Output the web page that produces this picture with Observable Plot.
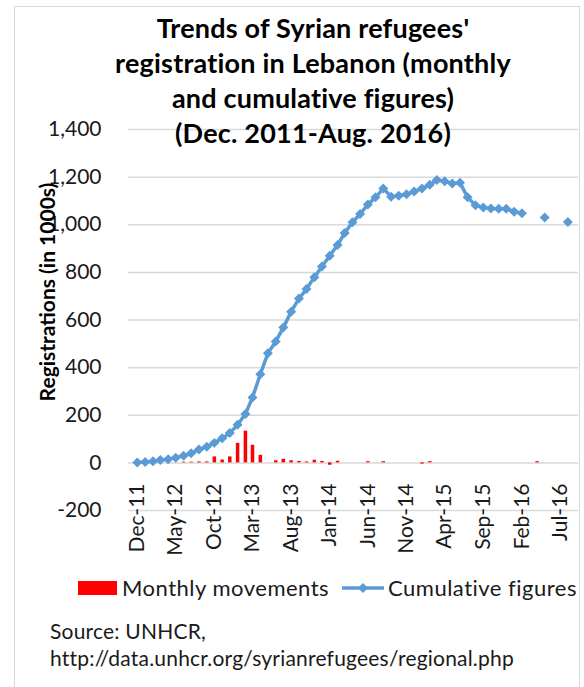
<!DOCTYPE html>
<html><head><meta charset="utf-8">
<script src="https://cdn.jsdelivr.net/npm/d3@7"></script>
<script src="https://cdn.jsdelivr.net/npm/@observablehq/plot@0.6"></script>
<style>
body{margin:0;background:#fff;font-family:Lato,"Open Sans",sans-serif;color:#1a1a1a;}
#wrap{position:relative;width:584px;height:687px;overflow:hidden;}
#frame{position:absolute;left:14px;top:6px;width:566px;height:700px;border:1px solid #d9d9d9;box-sizing:border-box;}
#chart{position:absolute;left:0;top:0;}
#title{position:absolute;left:0;width:626px;top:10px;text-align:center;font-weight:700;font-size:27px;line-height:35px;letter-spacing:0.2px;color:#000;}
#ylab{position:absolute;left:-103px;top:279px;width:300px;text-align:center;font-weight:700;font-size:21px;line-height:26px;transform:rotate(-90deg);transform-origin:150px 13px;color:#000;}
.leg{position:absolute;font-size:22px;line-height:26px;letter-spacing:0.5px;}
.src{position:absolute;left:50px;font-size:21px;line-height:26px;letter-spacing:0.2px;}
</style>
</head><body>
<div id="wrap">
<div id="frame"></div>
<div id="chart"></div>
<div id="title">Trends of Syrian refugees'<br>registration in Lebanon (monthly<br>and cumulative figures)<br>(Dec. 2011-Aug. 2016)</div>
<div id="ylab">Registrations (in 1000s)</div>
<div style="position:absolute;left:78px;top:581px;width:39px;height:14px;background:#ff0000"></div>
<div class="leg" style="left:122px;top:575px">Monthly movements</div>
<svg style="position:absolute;left:340px;top:580px" width="48" height="16"><line x1="2" y1="8" x2="44" y2="8" stroke="#5B9BD5" stroke-width="3.5"/><path d="M23,3L28,8L23,13L18,8Z" fill="#5B9BD5"/></svg>
<div class="leg" style="left:388px;top:575px">Cumulative figures</div>
<div class="src" style="top:618px">Source: UNHCR,</div>
<div class="src" style="top:645px">http://data.unhcr.org/syrianrefugees/regional.php</div>
</div>
<script>
// Months Dec-2011 .. Aug-2016 (category axis)
const months = d3.utcMonth.range(new Date(Date.UTC(2011, 11, 1)), new Date(Date.UTC(2016, 8, 1)));
// Cumulative registrations (thousands); null = no data point
const cumulative = [2,4,7,12,15,22,30,40,56,68,84,103,125,160,205,275,372,460,510,568,635,690,730,780,825,870,915,965,1010,1045,1085,1115,1152,1118,1122,1128,1140,1152,1168,1188,1183,1173,1176,1115,1082,1072,1068,1067,1067,1055,1048,null,null,1030,null,null,1012];
// Monthly movements (thousands)
const monthly = [0,0,0,0,0,0,3,3,4,4,25,12,25,82,133,74,32,0,9,15,9,6,4,11,6,-10,7,0,0,0,5,0,5,0,0,0,0,-5,5,0,0,0,0,0,0,0,0,0,0,0,0,0,5,0,0,0,0];
const xTickLabels = ["Dec-11","May-12","Oct-12","Mar-13","Aug-13","Jan-14","Jun-14","Nov-14","Apr-15","Sep-15","Feb-16","Jul-16"];
const yTicks = [-200,0,200,400,600,800,1000,1200,1400];

const data = months.map((d, i) => ({date: d, cum: cumulative[i], mon: monthly[i]}));
const parse = d3.utcParse("%b-%y");
const xTicks = xTickLabels.map(parse);
const fmtY = d => d3.format(",")(d).replace("\u2212", "-");

const chart = Plot.plot({
  width: 584, height: 560,
  marginLeft: 128, marginRight: 6, marginTop: 129, marginBottom: 50,
  style: {fontFamily: "Lato, 'Open Sans', sans-serif", fontSize: "21px", color: "#1a1a1a", background: "transparent"},
  x: {type: "utc", domain: [new Date(Date.UTC(2011, 9, 27)), new Date(Date.UTC(2016, 8, 12))]},
  y: {domain: [-200, 1400]},
  marks: [
    Plot.gridY(yTicks, {stroke: "#d9d9d9", strokeOpacity: 1, strokeWidth: 1.5}),
    Plot.axisY(yTicks, {tickSize: 0, tickPadding: 27, tickFormat: fmtY, label: null}),
    Plot.axisX(xTicks, {tickSize: 0, tickPadding: -27, tickRotate: -90, tickFormat: d3.utcFormat("%b-%y"), label: null}),
    Plot.ruleX(data.filter(d => d.mon !== 0), {x: "date", y1: 0, y2: "mon", stroke: "#ff0000", strokeWidth: 3.5}),
    Plot.line(data.slice(0, 51), {x: "date", y: "cum", stroke: "#5B9BD5", strokeWidth: 3.5}),
    Plot.dot(data.filter(d => d.cum != null), {x: "date", y: "cum", symbol: "diamond2", r: 4.5, fill: "#5B9BD5"})
  ]
});
document.getElementById("chart").appendChild(chart);
</script>
</body></html>
